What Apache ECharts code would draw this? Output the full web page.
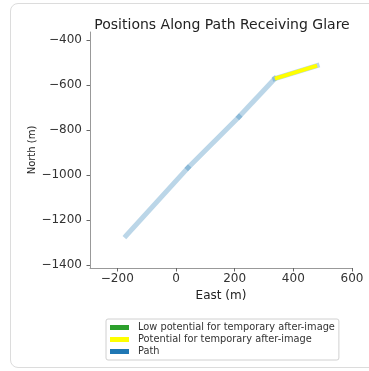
<!DOCTYPE html>
<html>
<head>
<meta charset="utf-8">
<script src="https://cdn.jsdelivr.net/npm/echarts@6/dist/echarts.min.js"></script>
<style>
  html, body { margin: 0; padding: 0; background: #fff; }
  #card { position: absolute; left: 10px; top: 3px; width: 380px; height: 365px;
          border: 1px solid #dcdcdc; border-radius: 8px; box-sizing: border-box; }
  #main { position: absolute; left: 0; top: 0; width: 369px; height: 371px; }
</style>
</head>
<body>
<div id="card"></div>
<div id="main"></div>
<script>
// path positions (m)
const pathEast = [-170, 41, 215, 337, 481];
const pathNorth = [-1270, -968, -741, -572, -514];
// part of path receiving glare (potential for after-image)
const glareEast = [337, 481];
const glareNorth = [-572, -514];
const xTicks = [-200, 0, 200, 400, 600];
const yTicks = [-1400, -1200, -1000, -800, -600, -400];

const font = 'DejaVu Sans';
const minus = v => String(v).replace('-', '\u2212');

const chart = echarts.init(document.getElementById('main'));

// draw path as separate segments so the overlapping caps darken the joints
const pathSeries = [];
for (let i = 0; i < pathEast.length - 1; i++) {
    pathSeries.push({
        name: 'Path',
        type: 'line',
        symbol: 'none',
        silent: true,
        lineStyle: { color: 'rgba(31,119,180,0.3)', width: 5, cap: 'square' },
        data: [[pathEast[i], pathNorth[i]], [pathEast[i + 1], pathNorth[i + 1]]]
    });
}

const option = {
    animation: false,
    title: {
        text: 'Positions Along Path Receiving Glare',
        left: 217, top: 13, textAlign: 'center',
        textStyle: { fontFamily: font, fontSize: 14, fontWeight: 'normal', color: '#222' }
    },
    grid: { left: 90, right: 17, top: 32, bottom: 103 },
    legend: {
        orient: 'vertical',
        left: 106, top: 319,
        padding: [3, 4, 3, 4],
        itemGap: 1,
        itemWidth: 19, itemHeight: 5,
        backgroundColor: '#fff',
        borderColor: '#d0d0d0', borderWidth: 1, borderRadius: 2,
        textStyle: { fontFamily: font, fontSize: 9.8, lineHeight: 11, color: '#333', padding: [0, 0, 0, 4] },
        data: [
            { name: 'Low potential for temporary after-image', icon: 'rect', itemStyle: { color: '#2ca02c' } },
            { name: 'Potential for temporary after-image', icon: 'rect', itemStyle: { color: '#ffff00' } },
            { name: 'Path', icon: 'rect', itemStyle: { color: '#1f77b4', opacity: 1 } }
        ]
    },
    xAxis: {
        type: 'value', min: -293, max: 600,
        name: 'East (m)', nameLocation: 'middle', nameGap: 18,
        nameTextStyle: { fontFamily: font, fontSize: 12, color: '#222' },
        splitLine: { show: false },
        axisLine: { show: true, onZero: false, lineStyle: { color: '#999', width: 1 } },
        axisTick: { show: true, length: 3.5, customValues: xTicks, lineStyle: { color: '#666' } },
        axisLabel: { customValues: xTicks, margin: 5, fontFamily: font, fontSize: 12, color: '#333', formatter: minus }
    },
    yAxis: {
        type: 'value', min: -1413, max: -365,
        name: 'North (m)', nameLocation: 'middle', nameGap: 53, nameRotate: 90,
        nameMoveOverlap: false,
        nameTextStyle: { fontFamily: font, fontSize: 10, color: '#222' },
        splitLine: { show: false },
        axisLine: { show: true, onZero: false, lineStyle: { color: '#999', width: 1 } },
        axisTick: { show: true, length: 3.5, customValues: yTicks, lineStyle: { color: '#666' } },
        axisLabel: { customValues: yTicks, margin: 8, fontFamily: font, fontSize: 12, color: '#333', formatter: minus }
    },
    series: [
        { name: 'Low potential for temporary after-image', type: 'line', data: [], itemStyle: { color: '#2ca02c' } },
        ...pathSeries,
        {
            name: 'Potential for temporary after-image',
            type: 'line', symbol: 'none', silent: true,
            itemStyle: { color: '#ffff00' },
            lineStyle: { color: '#ffff00', width: 4, cap: 'butt' },
            data: glareEast.map((e, i) => [e, glareNorth[i]])
        }
    ]
};
chart.setOption(option);
</script>
</body>
</html>
